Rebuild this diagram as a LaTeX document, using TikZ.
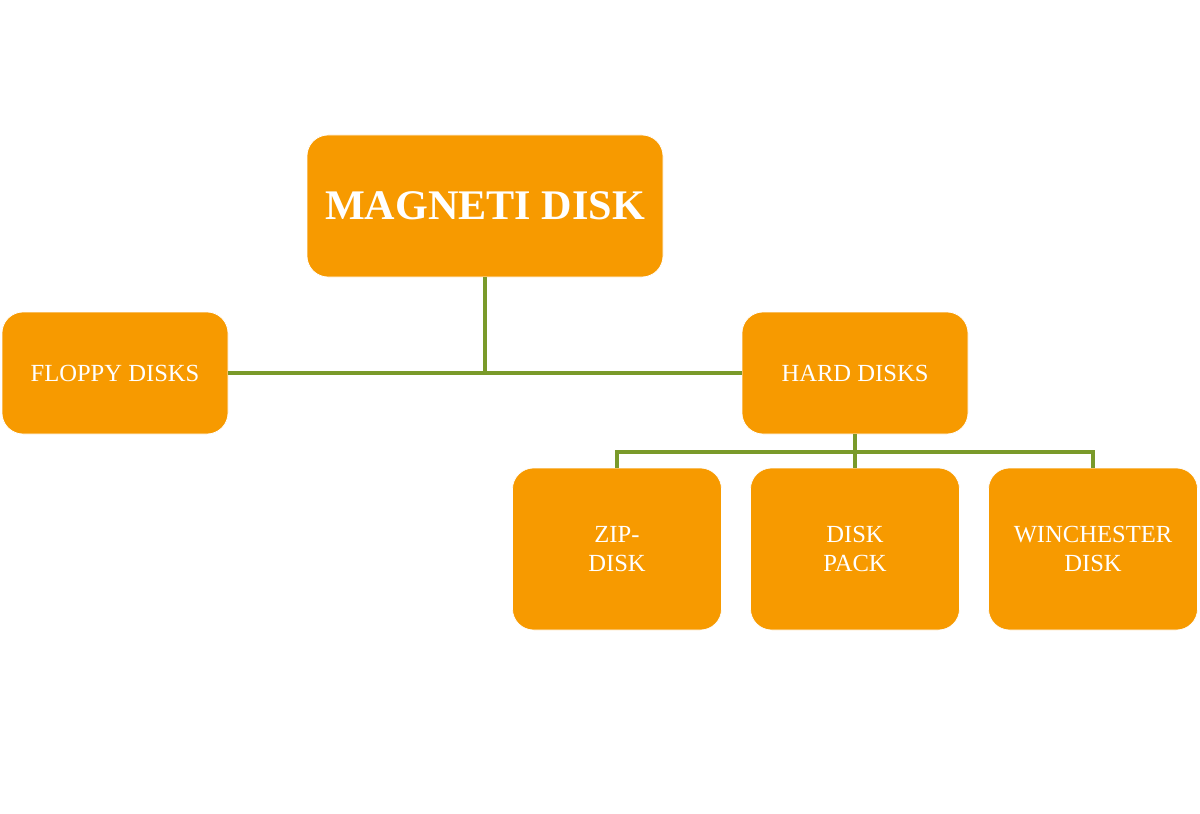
\documentclass[tikz,border=0pt]{standalone}
\usepackage{fontspec}
\setmainfont{Liberation Serif}
\usepackage{tikz}
\definecolor{diskorange}{HTML}{F79A00}
\definecolor{linkgreen}{HTML}{7A9A2A}

\begin{document}
\begin{tikzpicture}[x=0.02cm,y=-0.02cm,
  box/.style={draw=white,thin,fill=diskorange,rounded corners=12pt,text=white,
    align=center,font=\fontsize{14}{17}\selectfont,inner sep=0pt},
  link/.style={draw=linkgreen,line width=2.2pt}]
\useasboundingbox (0,0) rectangle (1200,814);

% top level
\node[box,minimum width=356*0.02cm,minimum height=142*0.02cm,
  font=\fontsize{24}{28}\selectfont\bfseries] (magneti) at (485,206) {MAGNETI DISK};

% second level
\node[box,minimum width=226*0.02cm,minimum height=122*0.02cm] (floppy) at (115,373) {FLOPPY DISKS};
\node[box,minimum width=226*0.02cm,minimum height=122*0.02cm] (hard) at (855,373) {HARD DISKS};

% third level
\node[box,minimum width=209*0.02cm,minimum height=162*0.02cm] (zip) at (617,549) {ZIP-\\DISK};
\node[box,minimum width=209*0.02cm,minimum height=162*0.02cm] (pack) at (855,549) {DISK\\PACK};
\node[box,minimum width=209*0.02cm,minimum height=162*0.02cm] (winch) at (1093,549) {WINCHESTER\\DISK};

\coordinate (mjoin) at (485,373);
\coordinate (hjoin) at (855,452);

\draw[link] (magneti.south) -- (mjoin);
\draw[link] (floppy.east) -- (hard.west);
\draw[link] (hard.south) -- (hjoin);
\draw[link] (zip.north) |- (hjoin) -| (winch.north);
\draw[link] (hjoin) -- (pack.north);
\end{tikzpicture}
\end{document}
